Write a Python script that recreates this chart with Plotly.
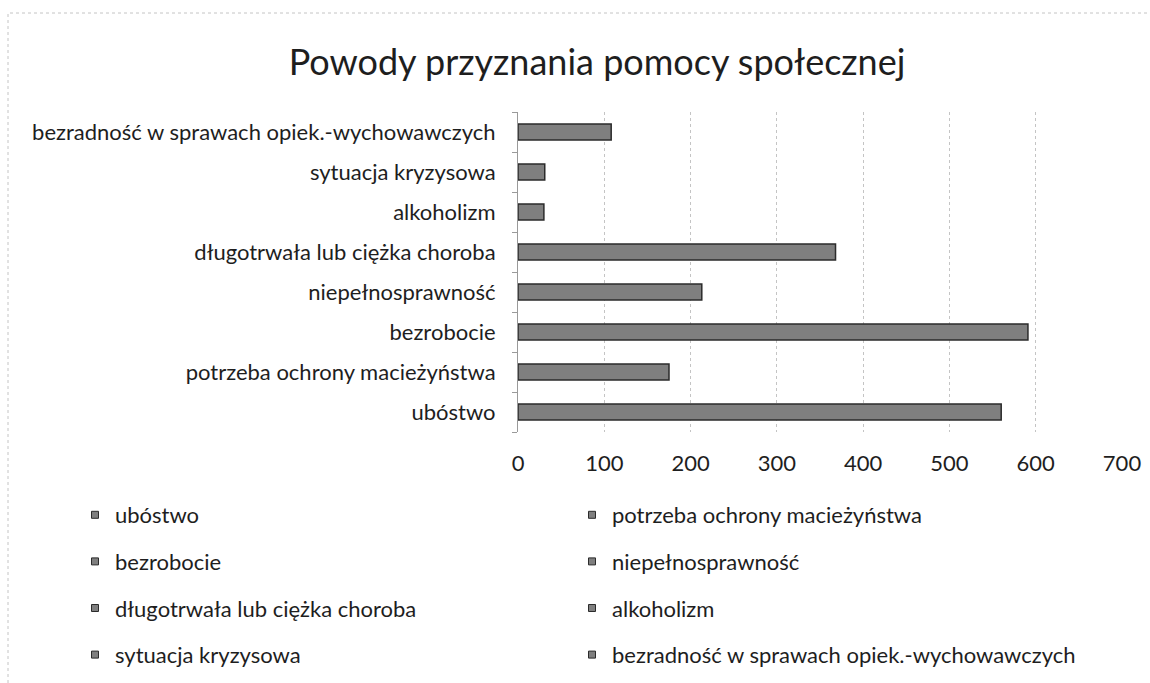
import plotly.graph_objects as go

# ---- data ----
categories = [
    "ubóstwo",
    "potrzeba ochrony macieżyństwa",
    "bezrobocie",
    "niepełnosprawność",
    "długotrwała lub ciężka choroba",
    "alkoholizm",
    "sytuacja kryzysowa",
    "bezradność w sprawach opiek.-wychowawczych",
]
values = [560, 175, 591, 213, 368, 30, 31, 108]
x_ticks = [0, 100, 200, 300, 400, 500, 600, 700]
title_text = "Powody przyznania pomocy społecznej"

# legend columns (row-major order in the reference: left col, right col)
legend_left = ["ubóstwo", "bezrobocie", "długotrwała lub ciężka choroba", "sytuacja kryzysowa"]
legend_right = ["potrzeba ochrony macieżyństwa", "niepełnosprawność", "alkoholizm",
                "bezradność w sprawach opiek.-wychowawczych"]

# ---- layout geometry (pixels) ----
W, H = 1150, 683
L, R, T, B = 518, 28, 112, 251
PW, PH = W - L - R, H - T - B


def px_x(px):
    return (px - L) / PW


def px_y(py):
    return (H - B - py) / PH


FONT = "Lato"
BAR_FILL = "#7f7f7f"
BAR_LINE = "#2b2b2b"
TEXT = "#1e1e1e"

fig = go.Figure()

# bars (one trace per category so that each has its own legend entry)
for cat, val in zip(categories, values):
    fig.add_trace(go.Bar(
        y=[cat], x=[val], orientation="h",
        marker=dict(color=BAR_FILL, line=dict(color=BAR_LINE, width=1.5)),
        showlegend=False, legendgroup=cat, name=cat,
        hoverinfo="x+y",
    ))

# legend entries (small square markers like the original)
for col, leg in ((legend_left, "legend"), (legend_right, "legend2")):
    for cat in col:
        fig.add_trace(go.Scatter(
            x=[None], y=[None], mode="markers", name=cat,
            marker=dict(symbol="square", size=7, color=BAR_FILL,
                        line=dict(color=BAR_LINE, width=1)),
            legendgroup=cat, legend=leg, showlegend=True,
        ))

leg_common = dict(orientation="v", xanchor="left", yanchor="top",
                  tracegroupgap=15, font=dict(size=22, color=TEXT), itemsizing="trace",
                  bgcolor="rgba(0,0,0,0)", itemclick=False, itemdoubleclick=False)

fig.update_layout(
    width=W, height=H,
    margin=dict(l=L, r=R, t=T, b=B, autoexpand=False),
    paper_bgcolor="white", plot_bgcolor="white",
    font=dict(family=FONT, size=22, color=TEXT),
    barmode="overlay", bargap=0.6,
    title=dict(text=title_text, x=597 / W, xanchor="center",
               y=1 - 62 / H, yanchor="middle",
               font=dict(family=FONT, size=36, color=TEXT)),
    xaxis=dict(range=[0, 700], tickvals=x_ticks, ticktext=[str(v) for v in x_ticks],
               showgrid=True, gridcolor="#c4c4c4", griddash="dot", gridwidth=1,
               zeroline=False, showline=False, ticks="",
               ticklabelstandoff=16,
               tickfont=dict(size=22, color=TEXT), fixedrange=True),
    yaxis=dict(type="category", categoryorder="array", categoryarray=categories,
               showgrid=False, zeroline=False,
               showline=True, linecolor="#9a9a9a", linewidth=1,
               ticks="outside", tickson="boundaries", ticklen=5, tickcolor="#9a9a9a",
               ticklabelstandoff=17,
               tickfont=dict(size=22, color=TEXT), fixedrange=True),
    legend=dict(x=px_x(75), y=px_y(494), **leg_common),
    legend2=dict(x=px_x(572), y=px_y(494), **leg_common),
    shapes=[dict(type="rect", xref="paper", yref="paper",
                 x0=px_x(8), x1=px_x(1170), y0=px_y(700), y1=px_y(13),
                 line=dict(color="#c4c4c4", width=1, dash="dot"), layer="below")],
)

fig.write_html("out.html", config={"displayModeBar": False},
               post_script="document.body.style.margin='0';")
